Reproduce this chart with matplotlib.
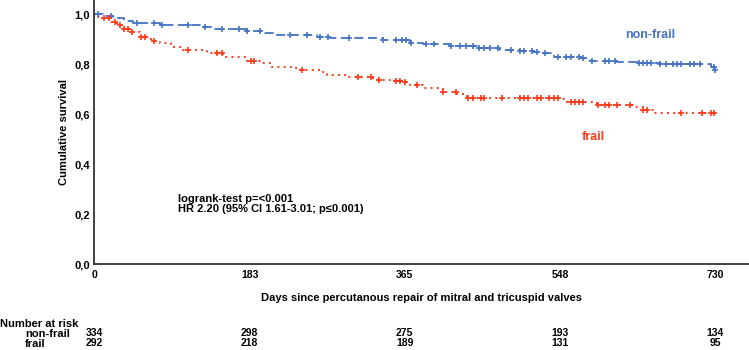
import numpy as np
import matplotlib
matplotlib.use("Agg")
import matplotlib.pyplot as plt
import matplotlib.transforms as mtransforms

# ---------------- data ----------------
blue_t = [0, 10, 22, 35, 46, 78, 125, 140, 180, 200, 215, 262, 277, 340, 371, 387, 418, 450,
          477, 500, 516, 528, 540, 571, 583, 614, 638, 665, 725, 730]
blue_s = [1.0, 0.992, 0.983, 0.972, 0.963, 0.956, 0.949, 0.939, 0.932, 0.925, 0.916, 0.909,
          0.903, 0.896, 0.885, 0.880, 0.872, 0.863, 0.856, 0.853, 0.849, 0.843, 0.829, 0.823,
          0.812, 0.809, 0.805, 0.799, 0.789, 0.775]
blue_cens = [5, 20, 50, 70, 80, 110, 130, 150, 170, 180, 195, 230, 250, 265, 275, 300, 340,
             355, 362, 367, 372, 390, 400, 420, 430, 437, 445, 452, 458, 465, 475, 490, 500,
             505, 515, 520, 530, 545, 555, 560, 570, 575, 585, 600, 605, 612, 640, 645, 650,
             655, 665, 672, 680, 685, 690, 700, 705, 712, 728, 730]

red_t = [0, 5, 11, 20, 27, 35, 42, 54, 62, 70, 78, 90, 105, 133, 152, 180, 195, 207, 234, 242,
         266, 274, 297, 328, 348, 363, 371, 387, 410, 427, 438, 548, 556, 591, 634, 645, 657, 730]
red_s = [1.0, 0.99, 0.983, 0.968, 0.956, 0.942, 0.929, 0.909, 0.899, 0.891, 0.883, 0.868,
         0.856, 0.843, 0.827, 0.812, 0.803, 0.789, 0.785, 0.776, 0.769, 0.756, 0.749, 0.736,
         0.733, 0.729, 0.716, 0.703, 0.689, 0.679, 0.665, 0.659, 0.649, 0.636, 0.629, 0.616,
         0.605, 0.598]
red_cens = [12, 18, 25, 30, 35, 40, 45, 55, 60, 70, 110, 145, 150, 185, 188, 245, 310, 325,
            335, 355, 360, 365, 380, 410, 425, 440, 445, 455, 458, 480, 500, 505, 510, 520,
            525, 535, 540, 545, 560, 565, 570, 575, 592, 600, 605, 615, 630, 645, 650, 690,
            715, 725, 728]

x_ticks = [0, 183, 365, 548, 730]
y_ticks = [0.0, 0.2, 0.4, 0.6, 0.8, 1.0]
y_ticklabels = ["0,0", "0,2", "0,4", "0,6", "0,8", "1,0"]
risk_groups = ["non-frail", "frail"]
risk_nonfrail = [334, 298, 275, 193, 134]
risk_frail = [292, 218, 189, 131, 95]

BLUE = "#4472C4"
RED = "#FF3A1A"
FONT = ["Liberation Sans", "DejaVu Sans"]
NARROW = ["Liberation Sans Narrow", "Liberation Sans", "DejaVu Sans"]

plt.rcParams['font.family'] = FONT

W, H = 749, 350
fig = plt.figure(figsize=(W / 100, H / 100), dpi=100)
ax = fig.add_axes([94 / W, (H - 264) / H, 1 - 94 / W, 264 / H])


def step_val(t, s, x):
    idx = np.searchsorted(t, x, side="right") - 1
    return np.asarray(s)[idx]


# curves
ax.plot(blue_t, blue_s, drawstyle="steps-post", color=BLUE, lw=1.3,
        linestyle=(0, (5, 2.5)))
ax.plot(red_t, red_s, drawstyle="steps-post", color=RED, lw=1.4,
        linestyle=(0, (1, 2.2)))
ax.plot(blue_cens, step_val(blue_t, blue_s, blue_cens), ls="none", marker="+",
        ms=5, mew=1.2, color=BLUE)
ax.plot(red_cens, step_val(red_t, red_s, red_cens), ls="none", marker="+",
        ms=5, mew=1.2, color=RED)

ax.set_xlim(0, (W - 94) / 0.851)
ax.set_ylim(0, 264 / 250)
ax.set_xticks(x_ticks)
ax.set_xticklabels([str(v) for v in x_ticks], fontweight="bold", fontsize=7.5,
                   family=NARROW)
ax.set_yticks(y_ticks)
ax.set_yticklabels(y_ticklabels, fontweight="bold", fontsize=8)
ax.tick_params(axis="both", length=0, pad=3)
ax.tick_params(axis="x", pad=4)
for side in ["top", "right"]:
    ax.spines[side].set_visible(False)
for side in ["left", "bottom"]:
    ax.spines[side].set_linewidth(1.3)
    ax.spines[side].set_color("#333333")

ax.set_ylabel("Cumulative survival", fontweight="bold", fontsize=8, labelpad=4)
ax.set_xlabel("Days since percutanous repair of mitral and tricuspid valves",
              fontweight="bold", fontsize=8, labelpad=10)

# curve labels
fig.text(650 / W, 1 - 35 / H, "non-frail", color=BLUE, fontsize=9, fontweight="bold",
         ha="center", va="center")
fig.text(593 / W, 1 - 137 / H, "frail", color=RED, fontsize=9, fontweight="bold",
         ha="center", va="center")

# statistics
fig.text(178 / W, 1 - 199 / H, "logrank-test p=<0.001", fontsize=8, fontweight="bold",
         ha="left", va="center")
fig.text(178 / W, 1 - 209.5 / H, "HR 2.20 (95% CI 1.61-3.01; p\u22640.001)", fontsize=8,
         fontweight="bold", ha="left", va="center")

# number at risk table
fig.text(0 / W, 1 - 324 / H, "Number at risk", fontsize=8, fontweight="bold",
         ha="left", va="center")
rows_y = [334, 344]
for name, yy in zip(risk_groups, rows_y):
    fig.text(25 / W, 1 - yy / H, name, fontsize=8, fontweight="bold", ha="left", va="center")
trans = mtransforms.blended_transform_factory(ax.transData, fig.transFigure)
for vals, yy in zip([risk_nonfrail, risk_frail], [333.5, 343.5]):
    for xv, v in zip(x_ticks, vals):
        ax.text(xv, 1 - yy / H, str(v), transform=trans, fontsize=7.5, fontweight="bold",
                ha="center", va="center", family=NARROW, clip_on=False)

fig.savefig("out.png", dpi=100)
